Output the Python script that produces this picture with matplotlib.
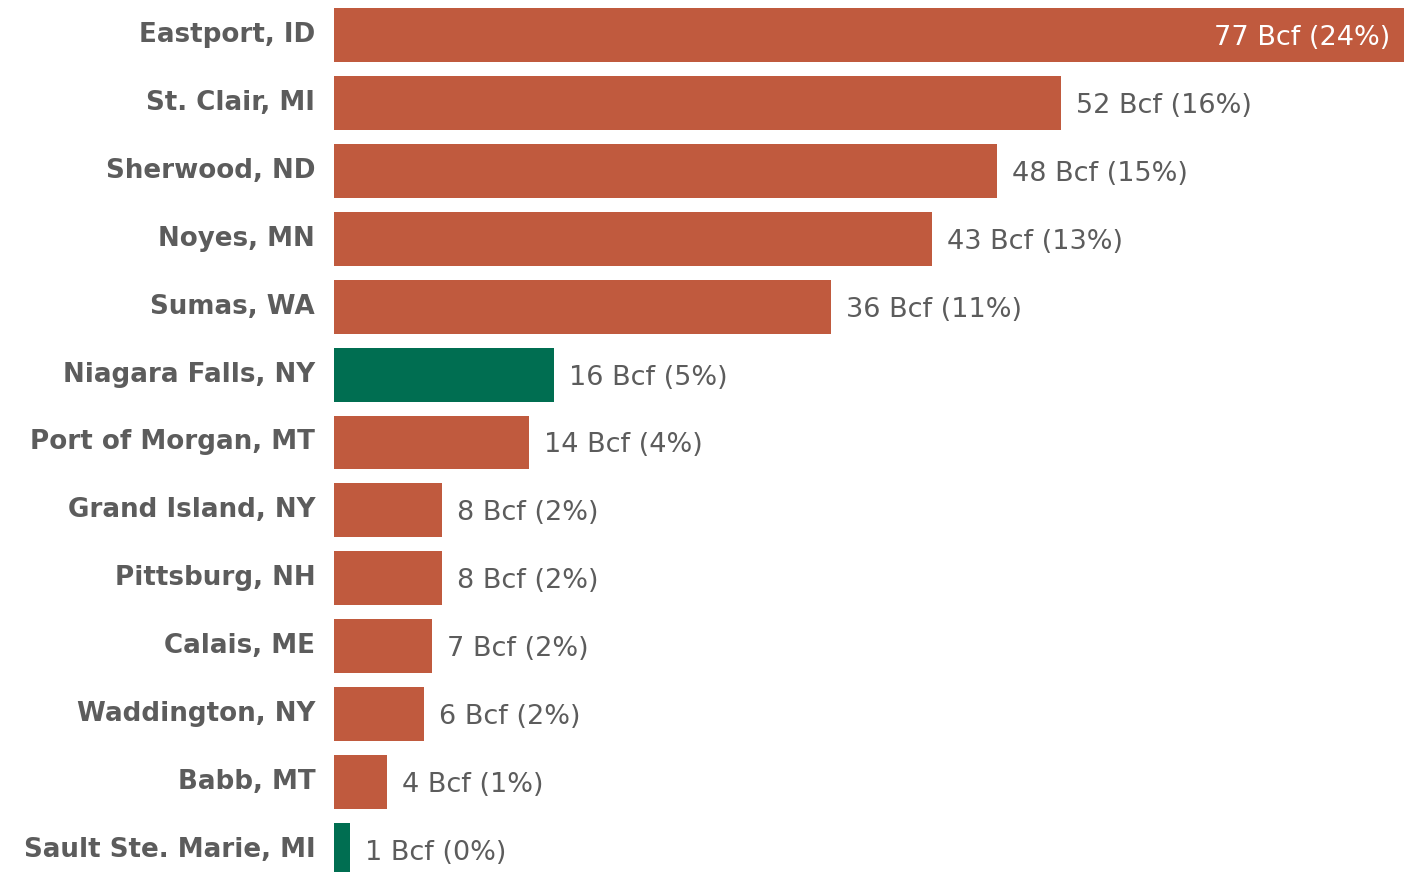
import matplotlib
matplotlib.use("Agg")
import matplotlib.pyplot as plt

categories = ["Eastport, ID", "St. Clair, MI", "Sherwood, ND", "Noyes, MN", "Sumas, WA",
              "Niagara Falls, NY", "Port of Morgan, MT", "Grand Island, NY", "Pittsburg, NH",
              "Calais, ME", "Waddington, NY", "Babb, MT", "Sault Ste. Marie, MI"]
values = [77.0, 52.3, 47.7, 43.0, 35.8, 15.8, 14.0, 7.8, 7.8, 7.05, 6.5, 3.8, 1.15]
value_labels = ["77 Bcf (24%)", "52 Bcf (16%)", "48 Bcf (15%)", "43 Bcf (13%)", "36 Bcf (11%)",
                "16 Bcf (5%)", "14 Bcf (4%)", "8 Bcf (2%)", "8 Bcf (2%)", "7 Bcf (2%)",
                "6 Bcf (2%)", "4 Bcf (1%)", "1 Bcf (0%)"]
highlight = [False, False, False, False, False, True, False, False, False, False, False, False, True]

ORANGE = "#C05A3E"
GREEN = "#006E51"
TEXT = "#5C5C5C"

W, H = 1404, 872
fig = plt.figure(figsize=(W / 100, H / 100), dpi=100)
ax = fig.add_axes([334 / W, 0, 1 - 334 / W, 1])

ys = list(range(len(categories)))
colors = [GREEN if h else ORANGE for h in highlight]
ax.barh(ys, values, height=54 / 68, color=colors)

ax.set_xlim(0, 77.0)
ax.set_ylim(12 + 22 / 68, -35 / 68)
ax.set_yticks(ys)
ax.set_yticklabels(categories, fontsize=18.8, fontweight="bold", color=TEXT, va="center")
ax.tick_params(axis="y", length=0, pad=13.5)
ax.set_xticks([])
for s in ax.spines.values():
    s.set_visible(False)

px = 77.0 / (W - 334)
for y, v, lab in zip(ys, values, value_labels):
    if v > 70:
        ax.text(v - 14 * px, y, lab, ha="right", va="center_baseline", fontsize=19.5, color="white")
    else:
        ax.text(v + 15 * px, y, lab, ha="left", va="center_baseline", fontsize=19.5, color=TEXT)

fig.savefig("out.png", dpi=100)
